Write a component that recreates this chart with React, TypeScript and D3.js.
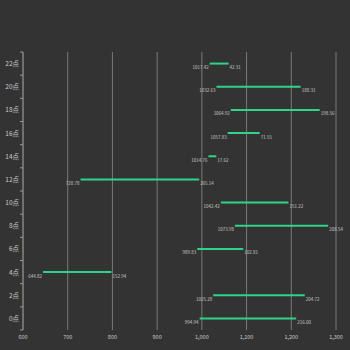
import React from "react";
import * as d3 from "d3";

const categories = ["0点", "2点", "4点", "6点", "8点", "10点", "12点", "14点", "16点", "18点", "20点", "22点"];
const startValues = [994.94, 1025.28, 644.82, 989.83, 1073.98, 1042.42, 728.78, 1014.76, 1057.83, 1064.92, 1032.63, 1017.42];
const deltaValues = [216.0, 204.72, 152.94, 102.81, 208.54, 151.22, 265.14, 17.62, 71.55, 198.56, 188.31, 42.31];
const xTicks = [600, 700, 800, 900, 1000, 1100, 1200, 1300];

const W = 350, H = 350;
const left = 23, right = 336, top = 52, bottom = 330;
const FONT = "'Noto Sans CJK SC', 'Noto Sans', sans-serif";

export default function App() {
  const x = d3.scaleLinear().domain([600, 1300]).range([left, right]);
  const y = d3.scaleBand<string>().domain([...categories].reverse()).range([top, bottom]);
  const fmt = d3.format(",");
  const bounds = d3.range(categories.length + 1).map((i) => top + i * y.step());
  return (
    <svg width={W} height={H} style={{ position: "absolute", left: 0, top: 0, background: "#333333" }}>
      <rect x={0} y={0} width={W} height={H} fill="#333333" />
      {xTicks.slice(1).map((t) => (
        <line key={t} x1={x(t)} x2={x(t)} y1={top} y2={bottom} stroke="#7a7a7a" strokeWidth={1} />
      ))}
      {xTicks.map((t) => (
        <text key={"l" + t} x={x(t)} y={bottom + 9} fill="#cccccc" fontSize={5.5} fontFamily={FONT} textAnchor="middle">
          {fmt(t)}
        </text>
      ))}
      <line x1={left} x2={left} y1={top} y2={bottom} stroke="#9a9a9a" strokeWidth={1.2} />
      {bounds.map((b, i) => (
        <line key={"b" + i} x1={left - 3} x2={left} y1={b} y2={b} stroke="#9a9a9a" strokeWidth={1} />
      ))}
      {categories.map((c) => (
        <text key={"c" + c} x={left - 4} y={(y(c) as number) + y.bandwidth() / 2 + 2.5} fill="#cccccc" fontSize={6.5} fontFamily={FONT} textAnchor="end">
          {c}
        </text>
      ))}
      {categories.map((c, i) => {
        const s = startValues[i];
        const e = s + deltaValues[i];
        const cy = (y(c) as number) + y.bandwidth() / 2;
        return (
          <g key={"bar" + c}>
            <line x1={x(s)} x2={x(e)} y1={cy} y2={cy} stroke="#2ed48c" strokeWidth={2} />
            <text x={x(s) - 1} y={cy + 5.5} fill="#cccccc" fontSize={4.5} fontFamily={FONT} textAnchor="end">
              {s.toFixed(2)}
            </text>
            <text x={x(e) + 1} y={cy + 5.5} fill="#cccccc" fontSize={4.5} fontFamily={FONT} textAnchor="start">
              {deltaValues[i].toFixed(2)}
            </text>
          </g>
        );
      })}
    </svg>
  );
}
